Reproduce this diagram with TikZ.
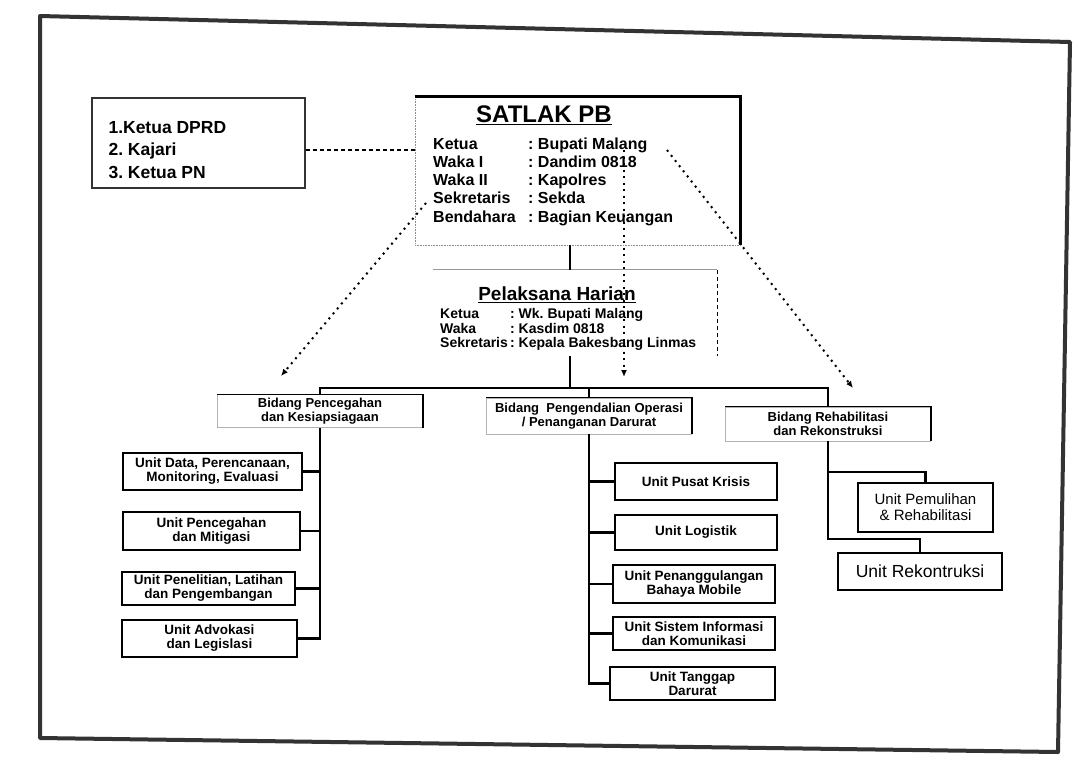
\documentclass[tikz,border=0pt]{standalone}
\usepackage{fontspec}
\setmainfont{Liberation Sans}
\usetikzlibrary{arrows.meta,positioning}
\frenchspacing

\begin{document}
\begin{tikzpicture}[x=1pt,y=-1pt,
  trunk/.style={line width=2.2pt, black},
  dotline/.style={line width=2pt, dash pattern=on 2pt off 4.5pt, -{Latex[length=7pt,width=6pt]}},
  dashline/.style={line width=1.5pt, dash pattern=on 4pt off 3pt},
  unitbox/.style={draw=black, line width=2pt, align=center, inner sep=1pt,
    font=\bfseries\fontsize{13.5}{14}\selectfont},
  plainunit/.style={unitbox, font=\fontsize{15}{16}\selectfont},
  bidangbox/.style={draw=black!30, line width=0.6pt, align=center, inner sep=1pt,
    minimum width=205pt, font=\bfseries\fontsize{13}{13.5}\selectfont},
]
\useasboundingbox (0,0) rectangle (1076,761);

% scanned outer frame
\draw[line width=4pt, black!80, line join=round]
  (40,16) -- (1070,42) -- (1058,752) -- (40,738) -- cycle;

% advisory box
\node[draw=black!80, line width=2pt, minimum width=213pt, minimum height=90pt] (leftbox) at (198.5,142.5) {};
\node[anchor=west, align=left, font=\bfseries\fontsize{17.5}{22.5}\selectfont] (leftlist) at (105,150)
  {1.Ketua DPRD\\2. Kajari\\3. Ketua PN};

% SATLAK PB
\node[draw=black!45, densely dotted, line width=0.6pt, minimum width=325pt, minimum height=148pt] (satlak) at (577.5,171) {};
\draw[line width=3pt] (satlak.north west) -- (satlak.north east) -- (satlak.south east);
\node[font=\bfseries\fontsize{24}{26}\selectfont] (satlaktitle) at (544,115) {\underline{SATLAK PB}};
\node[anchor=west, inner sep=0pt, font=\bfseries\fontsize{16}{18.3}\selectfont] (satlakrows) at (433,182)
  {\begin{tabular}{@{}p{95pt}@{}l@{}}
    Ketua & : Bupati Malang\\
    Waka I & : Dandim 0818\\
    Waka II & : Kapolres\\
    Sekretaris & : Sekda\\
    Bendahara & : Bagian Keuangan
  \end{tabular}};

% Pelaksana Harian
\node[minimum width=284pt, minimum height=86pt] (pelaksana) at (575,313) {};
\draw[black!40, line width=1pt] (pelaksana.north west) -- (pelaksana.north east);
\draw[dashline, line width=1pt] (pelaksana.north east) -- (pelaksana.south east);
\node[font=\bfseries\fontsize{19}{21}\selectfont] (pelaksanatitle) at (557,295) {\underline{Pelaksana Harian}};
\node[anchor=west, inner sep=0pt, font=\bfseries\fontsize{14}{13.3}\selectfont] (pelaksanarows) at (440,330)
  {\begin{tabular}{@{}p{70pt}@{}l@{}}
    Ketua & : Wk. Bupati Malang\\
    Waka & : Kasdim 0818\\
    Sekretaris & : Kepala Bakesbang Linmas
  \end{tabular}};

% bidang
\node[bidangbox, minimum height=33pt] (bidcegah) at (320,411) {Bidang Pencegahan\\dan Kesiapsiagaan};
\node[bidangbox, minimum height=36pt] (bidops) at (589,416) {Bidang\ \ Pengendalian Operasi\\/ Penanganan Darurat};
\node[bidangbox, minimum height=34pt] (bidrehab) at (828,424) {Bidang Rehabilitasi\\dan Rekonstruksi};
\foreach \b in {bidcegah,bidops,bidrehab}
  \draw[line width=1.4pt] (\b.north west) -- (\b.north east) -- (\b.south east);

% units, left
\node[unitbox, minimum width=179pt, minimum height=37pt] (unitdata) at (212.5,471.5) {Unit Data, Perencanaan,\\Monitoring, Evaluasi};
\node[unitbox, minimum width=177pt, minimum height=38pt] (unitcegah) at (211.5,531) {Unit Pencegahan\\dan Mitigasi};
\node[unitbox, minimum width=173pt, minimum height=33pt] (unitteliti) at (208.5,588.5) {Unit Penelitian, Latihan\\dan Pengembangan};
\node[unitbox, minimum width=175pt, minimum height=37pt] (unitadvokasi) at (209.5,638.5) {Unit Advokasi\\dan Legislasi};

% units, middle
\node[unitbox, minimum width=162pt, minimum height=37pt] (unitkrisis) at (696,481.5) {Unit Pusat Krisis};
\node[unitbox, minimum width=162pt, minimum height=35pt] (unitlogistik) at (696,532.5) {Unit Logistik};
\node[unitbox, minimum width=162pt, minimum height=38pt] (unitmobile) at (694,584) {Unit Penanggulangan\\Bahaya Mobile};
\node[unitbox, minimum width=162pt, minimum height=33pt] (unitinfo) at (694,633.5) {Unit Sistem Informasi\\dan Komunikasi};
\node[unitbox, minimum width=165pt, minimum height=33pt] (unittanggap) at (692.5,683.5) {Unit Tanggap\\Darurat};

% units, right
\node[plainunit, minimum width=135pt, minimum height=49pt] (unitpulih) at (925.5,507.5) {Unit Pemulihan\\\& Rehabilitasi};
\node[plainunit, minimum width=164pt, minimum height=37pt, font=\fontsize{17.5}{19}\selectfont] (unitrekon) at (920,571.5) {Unit Rekontruksi};

% command lines
\coordinate (bus) at (570,388);
\draw[dashline] (leftbox.east |- leftlist) -- (satlak.west |- leftlist);
\draw[trunk] ([xshift=-5pt]pelaksana.north |- satlak.south) -- ([xshift=-5pt]pelaksana.north);
\draw[trunk] ([xshift=-5pt]pelaksana.south) -- ([xshift=-5pt]pelaksana.south |- bus);
\draw[trunk] (bidcegah.north) |- (bus) -| (bidrehab.north);
\draw[trunk] (bidops.north) -- (bidops.north |- bus);

\draw[trunk] (bidcegah.south) |- (unitadvokasi.east);
\foreach \u in {unitdata,unitcegah,unitteliti}
  \draw[trunk] (\u.east) -- (\u.east -| bidcegah.south);
\draw[trunk] (bidops.south) |- (unittanggap.west);
\foreach \u in {unitkrisis,unitlogistik,unitmobile,unitinfo}
  \draw[trunk] (\u.west) -- (\u.west -| bidops.south);
\draw[trunk] (bidrehab.south) -- ++(0,98) -| (unitrekon.north);
\draw[trunk] (bidrehab.south) ++(0,31) -| (unitpulih.north);

% coordination lines
\coordinate (dotleftstart) at (426,203);
\coordinate (dotleftend) at (281,376);
\coordinate (dotmidstart) at (624,150);
\coordinate (dotmidend) at (624,377);
\coordinate (dotrightstart) at (667,150);
\coordinate (dotrightend) at (853,388);
\draw[dotline] (dotleftstart) -- (dotleftend);
\draw[dotline] (dotmidstart) -- (dotmidend);
\draw[dotline] (dotrightstart) -- (dotrightend);
\end{tikzpicture}
\end{document}
